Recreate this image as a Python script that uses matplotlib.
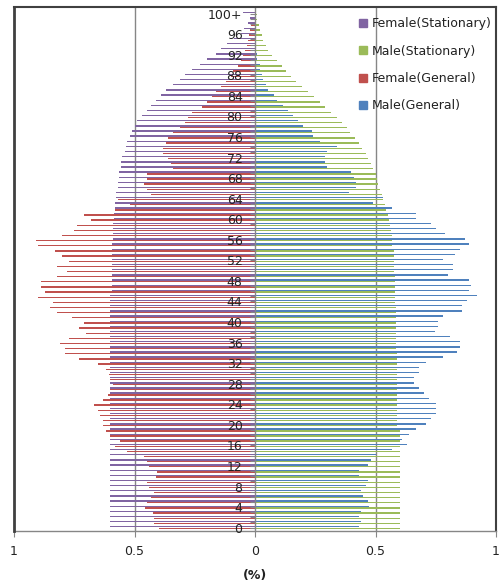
#!/usr/bin/env python3

import numpy as np
import matplotlib
matplotlib.use("Agg")
import matplotlib.pyplot as plt
from matplotlib.lines import Line2D

# =========================
# DATA  (share of total population, %)
# =========================

ages = np.arange(101)
age_labels = [str(a) if a < 100 else "100+" for a in ages]

female_stationary = [
    0.60, 0.60, 0.60, 0.60, 0.60, 0.60, 0.60, 0.60, 0.60, 0.60,
    0.60, 0.60, 0.60, 0.60, 0.60, 0.60, 0.60, 0.60, 0.60, 0.60,
    0.60, 0.60, 0.60, 0.60, 0.60, 0.60, 0.60, 0.60, 0.60, 0.60,
    0.60, 0.60, 0.60, 0.60, 0.60, 0.60, 0.60, 0.60, 0.60, 0.60,
    0.60, 0.60, 0.60, 0.60, 0.60, 0.60, 0.595, 0.595, 0.595, 0.595,
    0.595, 0.595, 0.595, 0.595, 0.595, 0.595, 0.59, 0.59, 0.59, 0.59,
    0.585, 0.585, 0.58, 0.58, 0.575, 0.575, 0.57, 0.57, 0.565, 0.565,
    0.555, 0.555, 0.55, 0.54, 0.535, 0.53, 0.52, 0.51, 0.50, 0.49,
    0.47, 0.45, 0.43, 0.41, 0.39, 0.37, 0.34, 0.31, 0.29, 0.26,
    0.23, 0.20, 0.16, 0.14, 0.115, 0.087, 0.06, 0.045, 0.03, 0.02,
    0.05
]

male_stationary = [
    0.60, 0.60, 0.60, 0.60, 0.60, 0.60, 0.60, 0.60, 0.60, 0.60,
    0.60, 0.60, 0.60, 0.60, 0.60, 0.60, 0.60, 0.60, 0.60, 0.60,
    0.59, 0.59, 0.59, 0.59, 0.59, 0.59, 0.59, 0.59, 0.59, 0.59,
    0.59, 0.59, 0.59, 0.59, 0.59, 0.585, 0.585, 0.585, 0.585, 0.585,
    0.585, 0.585, 0.585, 0.585, 0.58, 0.58, 0.58, 0.58, 0.58, 0.58,
    0.575, 0.575, 0.575, 0.575, 0.575, 0.57, 0.57, 0.57, 0.565, 0.56,
    0.555, 0.55, 0.545, 0.54, 0.53, 0.525, 0.52, 0.51, 0.505, 0.50,
    0.49, 0.48, 0.47, 0.46, 0.445, 0.43, 0.415, 0.395, 0.38, 0.36,
    0.34, 0.315, 0.29, 0.27, 0.245, 0.22, 0.195, 0.17, 0.15, 0.13,
    0.11, 0.09, 0.07, 0.055, 0.045, 0.035, 0.03, 0.02, 0.015, 0.01,
    0.01
]

female_general = [
    0.40, 0.42, 0.42, 0.425, 0.455, 0.45, 0.43, 0.42, 0.44, 0.45,
    0.41, 0.405, 0.44, 0.45, 0.46, 0.53, 0.58, 0.56, 0.60, 0.62,
    0.63, 0.63, 0.645, 0.65, 0.67, 0.63, 0.61, 0.60, 0.59, 0.60,
    0.605, 0.62, 0.65, 0.73, 0.79, 0.79, 0.81, 0.77, 0.70, 0.73,
    0.71, 0.76, 0.82, 0.85, 0.84, 0.90, 0.87, 0.89, 0.89, 0.82,
    0.78, 0.82, 0.77, 0.80, 0.83, 0.90, 0.91, 0.80, 0.75, 0.74,
    0.68, 0.71, 0.58, 0.52, 0.57, 0.43, 0.45, 0.46, 0.45, 0.45,
    0.34, 0.35, 0.36, 0.38, 0.38, 0.37, 0.36, 0.34, 0.31, 0.29,
    0.28, 0.26, 0.22, 0.20, 0.18, 0.16, 0.14, 0.12, 0.10, 0.09,
    0.07, 0.06, 0.05, 0.04, 0.035, 0.03, 0.025, 0.02, 0.015, 0.01,
    0.01
]

male_general = [
    0.43, 0.44, 0.43, 0.44, 0.475, 0.47, 0.45, 0.44, 0.46, 0.47,
    0.43, 0.43, 0.47, 0.48, 0.50, 0.57, 0.63, 0.61, 0.64, 0.67,
    0.71, 0.73, 0.75, 0.75, 0.75, 0.72, 0.70, 0.68, 0.66, 0.66,
    0.68, 0.68, 0.71, 0.78, 0.84, 0.85, 0.85, 0.81, 0.745, 0.76,
    0.76, 0.78, 0.86, 0.86, 0.88, 0.92, 0.89, 0.896, 0.886, 0.80,
    0.82, 0.82, 0.78, 0.83, 0.85, 0.886, 0.87, 0.79, 0.75, 0.73,
    0.67, 0.67, 0.57, 0.49, 0.53, 0.39, 0.42, 0.42, 0.41, 0.40,
    0.30, 0.29, 0.29, 0.30, 0.34, 0.27, 0.24, 0.235, 0.20, 0.18,
    0.157, 0.137, 0.116, 0.09, 0.08, 0.055, 0.046, 0.035, 0.03, 0.02,
    0.02, 0.01, 0.008, 0.006, 0.005, 0.004, 0.003, 0.002, 0.002, 0.001,
    0.001
]

x_ticks = [-1, -0.5, 0, 0.5, 1]
x_tick_labels = ["1", "0.5", "0", "0.5", "1"]

series_names = ["Female(Stationary)", "Male(Stationary)", "Female(General)", "Male(General)"]
colors = ["#8064A2", "#9BBB59", "#C0504D", "#4F81BD"]

# =========================
# PLOT
# =========================

fig = plt.figure(figsize=(5.01, 5.86), dpi=100)
ax = fig.add_axes([14 / 501, 1 - 530.7 / 586, 482 / 501, 523.7 / 586])
ax.set_axisbelow(False)

h = 0.26
off = 0.17
# females drawn to the left (negative), males to the right
ax.barh(ages + off, -np.array(female_stationary), height=h, color=colors[0], linewidth=0, zorder=2)
ax.barh(ages - off, np.array(male_stationary), height=h, color=colors[1], linewidth=0, zorder=2)
ax.barh(ages - off, -np.array(female_general), height=h, color=colors[2], linewidth=0, zorder=2)
ax.barh(ages + off, np.array(male_general), height=h, color=colors[3], linewidth=0, zorder=2)

ax.set_xlim(-1, 1)
ax.set_ylim(-0.6, 101.3)

# gridlines at +-0.5
for gx in (-0.5, 0.5):
    ax.axvline(gx, color="#868686", linewidth=1, zorder=1)

# frame: dark border on left/top/right, gray axis on bottom
ax.spines["top"].set_color("#404040")
ax.spines["top"].set_linewidth(1.5)
ax.spines["right"].set_color("#404040")
ax.spines["right"].set_linewidth(1.5)
ax.spines["bottom"].set_color("#868686")
ax.spines["bottom"].set_linewidth(1)
ax.axvline(-1, color="#404040", linewidth=2, clip_on=False, zorder=3)

# category axis sits in the middle
ax.spines["left"].set_position(("data", 0))
ax.spines["left"].set_color("#868686")
ax.spines["left"].set_linewidth(1)

ax.set_yticks(ages)
ax.set_yticklabels([lab if (a % 4 == 0) else "" for a, lab in zip(ages, age_labels)])
ax.tick_params(axis="y", direction="out", length=3.5, color="#868686", labelsize=9,
               pad=5.5, labelcolor="#222222")

ax.set_xticks(x_ticks)
ax.set_xticklabels(x_tick_labels)
ax.tick_params(axis="x", direction="out", length=4, color="#868686", labelsize=9,
               pad=6, labelcolor="#222222")

fig.text(254.5 / 501, 1 - 575 / 586, "(%)", ha="center", va="center",
         fontsize=9, fontweight="bold", color="#222222")

# legend
handles = [Line2D([], [], marker="s", linestyle="none", markersize=6,
                  markerfacecolor=c, markeredgecolor=c) for c in colors]
leg = ax.legend(handles, series_names, loc="upper left", bbox_to_anchor=(0.70, 0.99),
                frameon=False, fontsize=9, labelspacing=1.15, handletextpad=0.2,
                handlelength=1.0, borderaxespad=0)
for t in leg.get_texts():
    t.set_color("#222222")

fig.savefig("out.png", dpi=100)
